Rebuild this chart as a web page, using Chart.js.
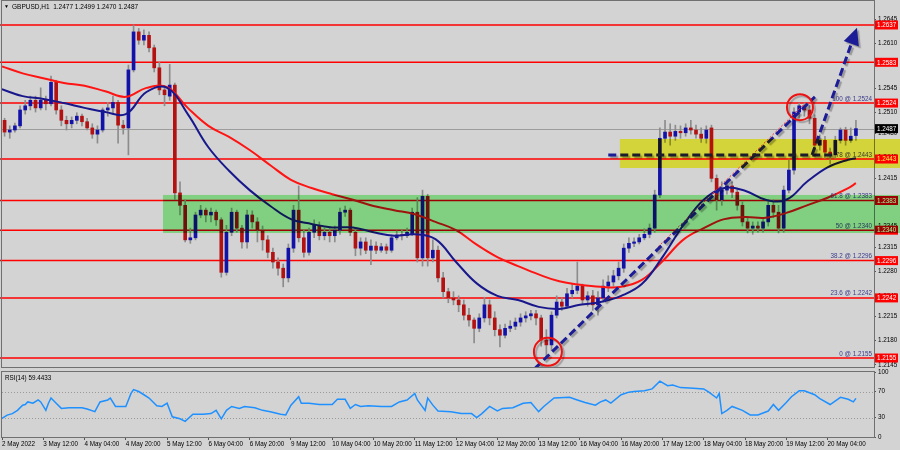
<!DOCTYPE html>
<html>
<head>
<meta charset="utf-8">
<script src="https://cdn.jsdelivr.net/npm/chart.js@4.4.1/dist/chart.umd.min.js"></script>
<style>
  html, body { margin: 0; padding: 0; background: #d3d3d3; }
  #wrap { position: relative; width: 900px; height: 450px; overflow: hidden; }
  #main { position: absolute; left: 0; top: 0; }
  #rsi { position: absolute; left: 0; top: 362px; }
</style>
</head>
<body>
<div id="wrap">
  <canvas id="main" width="900" height="369" style="width:900px;height:369px"></canvas>
  <canvas id="rsi" width="900" height="88" style="width:900px;height:88px"></canvas>
</div>
<script>
// GBPUSD 2-hour candles (2 May - 20 May 2022)
const opens = [1.2499,1.2482,1.2485,1.2491,1.2514,1.2520,1.2528,1.2517,1.2528,1.2523,1.2554,1.2514,1.2499,1.2494,1.2499,1.2505,1.2497,1.2488,1.2479,1.2485,1.2514,1.2517,1.2525,1.2492,1.2488,1.2572,1.2627,1.2615,1.2622,1.2604,1.2575,1.2543,1.2534,1.2550,1.2394,1.2376,1.2326,1.2329,1.2362,1.2369,1.2362,1.2366,1.2355,1.2279,1.2337,1.2366,1.2343,1.2323,1.2362,1.2352,1.2340,1.2326,1.2308,1.2294,1.2285,1.2271,1.2314,1.2369,1.2329,1.2308,1.2337,1.2347,1.2332,1.2337,1.2332,1.2340,1.2366,1.2369,1.2337,1.2314,1.2323,1.2311,1.2317,1.2311,1.2316,1.2311,1.2329,1.2333,1.2332,1.2334,1.2366,1.2300,1.2389,1.2300,1.2311,1.2271,1.2251,1.2242,1.2239,1.2232,1.2217,1.2210,1.2198,1.2213,1.2232,1.2213,1.2196,1.2188,1.2198,1.2201,1.2207,1.2213,1.2216,1.2219,1.2213,1.2181,1.2174,1.2217,1.2236,1.2230,1.2248,1.2253,1.2259,1.2239,1.2245,1.2232,1.2242,1.2259,1.2265,1.2274,1.2285,1.2314,1.2321,1.2323,1.2329,1.2334,1.2343,1.2391,1.2473,1.2482,1.2476,1.2483,1.2481,1.2488,1.2485,1.2479,1.2473,1.2488,1.2415,1.2384,1.2398,1.2404,1.2395,1.2376,1.2352,1.2343,1.2346,1.2343,1.2352,1.2376,1.2366,1.2343,1.2398,1.2427,1.2511,1.2520,1.2514,1.2502,1.2463,1.2470,1.2453,1.2449,1.2470,1.2485,1.2470,1.2477];
const highs = [1.2502,1.2491,1.2495,1.2520,1.2528,1.2534,1.2534,1.2546,1.2534,1.2563,1.2557,1.2520,1.2505,1.2504,1.2510,1.2508,1.2502,1.2494,1.2491,1.2517,1.2525,1.2534,1.2528,1.2499,1.2579,1.2637,1.2632,1.2630,1.2627,1.2608,1.2583,1.2549,1.2580,1.2553,1.2410,1.2384,1.2343,1.2366,1.2376,1.2372,1.2372,1.2369,1.2358,1.2347,1.2372,1.2369,1.2347,1.2369,1.2368,1.2358,1.2346,1.2332,1.2314,1.2300,1.2291,1.2320,1.2376,1.2404,1.2340,1.2343,1.2355,1.2352,1.2343,1.2343,1.2346,1.2372,1.2375,1.2372,1.2343,1.2329,1.2329,1.2326,1.2323,1.2321,1.2320,1.2333,1.2339,1.2340,1.2343,1.2372,1.2387,1.2398,1.2392,1.2326,1.2317,1.2279,1.2256,1.2251,1.2245,1.2239,1.2227,1.2213,1.2219,1.2243,1.2239,1.2222,1.2203,1.2204,1.2209,1.2213,1.2219,1.2222,1.2224,1.2224,1.2217,1.2196,1.2222,1.2245,1.2242,1.2256,1.2262,1.2294,1.2262,1.2251,1.2253,1.2251,1.2268,1.2274,1.2282,1.2294,1.2320,1.2329,1.2329,1.2334,1.2342,1.2349,1.2398,1.2488,1.2499,1.2494,1.2492,1.2491,1.2494,1.2499,1.2492,1.2488,1.2491,1.2492,1.2420,1.2410,1.2413,1.2410,1.2401,1.2381,1.2358,1.2352,1.2352,1.2358,1.2384,1.2384,1.2376,1.2404,1.2442,1.2517,1.2524,1.2524,1.2521,1.2507,1.2478,1.2476,1.2459,1.2476,1.2488,1.2489,1.2488,1.2499];
const lows = [1.2476,1.2473,1.2482,1.2488,1.2508,1.2514,1.2511,1.2514,1.2514,1.2520,1.2508,1.2491,1.2485,1.2488,1.2494,1.2491,1.2485,1.2473,1.2466,1.2482,1.2505,1.2508,1.2466,1.2479,1.2449,1.2569,1.2609,1.2608,1.2598,1.2569,1.2536,1.2520,1.2528,1.2384,1.2362,1.2323,1.2321,1.2326,1.2358,1.2352,1.2352,1.2347,1.2272,1.2275,1.2332,1.2337,1.2314,1.2314,1.2343,1.2323,1.2311,1.2300,1.2285,1.2275,1.2258,1.2265,1.2308,1.2323,1.2301,1.2304,1.2329,1.2326,1.2326,1.2323,1.2323,1.2334,1.2360,1.2332,1.2303,1.2304,1.2306,1.2290,1.2306,1.2308,1.2306,1.2308,1.2326,1.2326,1.2329,1.2332,1.2294,1.2288,1.2288,1.2294,1.2265,1.2242,1.2235,1.2232,1.2222,1.2210,1.2201,1.2177,1.2193,1.2207,1.2203,1.2187,1.2171,1.2184,1.2193,1.2196,1.2201,1.2207,1.2210,1.2203,1.2172,1.2155,1.2166,1.2213,1.2224,1.2227,1.2242,1.2248,1.2233,1.2230,1.2224,1.2217,1.2236,1.2251,1.2259,1.2268,1.2279,1.2308,1.2316,1.2320,1.2326,1.2329,1.2337,1.2387,1.2467,1.2463,1.2470,1.2473,1.2476,1.2479,1.2473,1.2467,1.2466,1.2410,1.2369,1.2376,1.2392,1.2387,1.2369,1.2346,1.2336,1.2334,1.2337,1.2337,1.2346,1.2358,1.2336,1.2337,1.2394,1.2421,1.2502,1.2505,1.2494,1.2456,1.2456,1.2444,1.2436,1.2444,1.2466,1.2463,1.2467,1.2470];
const closes = [1.2482,1.2485,1.2491,1.2514,1.2520,1.2528,1.2517,1.2528,1.2523,1.2554,1.2514,1.2499,1.2494,1.2499,1.2505,1.2497,1.2488,1.2479,1.2485,1.2514,1.2517,1.2525,1.2492,1.2488,1.2572,1.2627,1.2615,1.2622,1.2604,1.2575,1.2543,1.2536,1.2550,1.2394,1.2376,1.2326,1.2329,1.2362,1.2369,1.2362,1.2366,1.2355,1.2279,1.2337,1.2366,1.2343,1.2323,1.2362,1.2352,1.2340,1.2326,1.2308,1.2294,1.2285,1.2271,1.2314,1.2369,1.2329,1.2308,1.2337,1.2347,1.2332,1.2337,1.2332,1.2340,1.2366,1.2369,1.2337,1.2314,1.2323,1.2311,1.2317,1.2311,1.2316,1.2311,1.2329,1.2333,1.2332,1.2337,1.2366,1.2300,1.2389,1.2300,1.2311,1.2271,1.2251,1.2242,1.2239,1.2232,1.2217,1.2210,1.2198,1.2213,1.2232,1.2213,1.2196,1.2188,1.2198,1.2201,1.2207,1.2213,1.2216,1.2219,1.2213,1.2181,1.2174,1.2217,1.2236,1.2230,1.2248,1.2253,1.2259,1.2239,1.2245,1.2232,1.2242,1.2259,1.2265,1.2274,1.2285,1.2314,1.2321,1.2323,1.2329,1.2334,1.2343,1.2391,1.2473,1.2482,1.2476,1.2483,1.2481,1.2488,1.2485,1.2479,1.2473,1.2485,1.2415,1.2384,1.2398,1.2404,1.2395,1.2376,1.2352,1.2343,1.2346,1.2343,1.2352,1.2376,1.2366,1.2343,1.2398,1.2427,1.2511,1.2520,1.2514,1.2502,1.2463,1.2470,1.2453,1.2449,1.2470,1.2485,1.2470,1.2476,1.2487];

// moving averages, sampled every 8 hours
const maHours = [0,8,16,24,32,40,48,56,64,72,80,88,96,104,112,120,128,136,144,152,160,168,176,184,192,200,208,216,224,232,240,248,256,264,272,280,288,296,304,312,320,328,331];
const blueMA = [1.2544,1.2534,1.2530,1.2524,1.2517,1.2511,1.2508,1.2540,1.2546,1.2508,1.2460,1.2426,1.2398,1.2375,1.2356,1.2349,1.2344,1.2344,1.2337,1.2332,1.2334,1.2327,1.2294,1.2263,1.2245,1.2239,1.2229,1.2226,1.2232,1.2236,1.2245,1.2262,1.2301,1.2347,1.2384,1.2401,1.2397,1.2384,1.2384,1.2410,1.2431,1.2442,1.2444];
const redMA = [1.2577,1.2567,1.2560,1.2553,1.2549,1.2541,1.2533,1.2546,1.2547,1.2517,1.2491,1.2475,1.2456,1.2434,1.2413,1.2401,1.2392,1.2384,1.2375,1.2369,1.2363,1.2352,1.2340,1.2319,1.2301,1.2288,1.2276,1.2266,1.2261,1.2258,1.2258,1.2268,1.2295,1.2326,1.2343,1.2356,1.2359,1.2358,1.2365,1.2376,1.2387,1.2401,1.2408];

// RSI(14)
const rsiHours = [0,2,4,6,8,9,10,12,14,15,17,18,19,21,23,26,31,33,36,38,41,42,44,46,48,50,51,53,55,57,60,62,64,66,69,71,74,78,81,83,85,87,89,92,94,98,101,104,108,110,112,115,116,119,123,128,130,133,135,137,139,142,147,151,154,157,160,161,164,165,167,169,174,178,182,184,186,189,192,194,198,202,205,208,210,214,220,223,226,230,232,234,236,240,243,245,249,252,255,258,260,263,268,272,274,277,278,279,281,283,287,290,293,297,299,301,304,306,309,311,315,317,321,325,328,330,331];
const rsiValues = [28.5,33.7,36,41,49,50,54,52,57,54,41,52,60,52,44,45,45,43,39,54,57,60,47,47,47,67,73,70,65,60,48,47,52,31,28,24,35,35,36,41,28,41,47,44,47,45,41,39,35,34,49,62,52,52,50,50,58,58,44,50,47,48,47,47,54,57,67,57,41,60,49,40,39,36,36,30,36,47,40,44,45,52,53,39,47,60,61,57,53,49,54,57,52,65,69,70,71,74,86,79,80,76,75,74,69,60,67,36,41,47,41,34,34,40,50,41,53,62,71,71,65,59,50,61,58,54,59.4433];
const rsiLast = 59.4433;

// axes
const xLabels = ['2 May 2022','3 May 12:00','4 May 04:00','4 May 20:00','5 May 12:00','6 May 04:00','6 May 20:00','9 May 12:00','10 May 04:00','10 May 20:00','11 May 12:00','12 May 04:00','12 May 20:00','13 May 12:00','16 May 04:00','16 May 20:00','17 May 12:00','18 May 04:00','18 May 20:00','19 May 12:00','20 May 04:00'];
const yTicks = [1.2645,1.2610,1.2580,1.2545,1.2510,1.2480,1.2445,1.2415,1.2380,1.2345,1.2315,1.2280,1.2245,1.2215,1.2180,1.2145];
const rsiTicks = [100,70,30,0];

// drawn objects
const fibNames = ['0','23.6','38.2','50','61.8','78','100'];
const fibPrices = [1.2155,1.2242,1.2296,1.2340,1.2383,1.2443,1.2524];
const extraLevels = [1.2583,1.2637];
const zoneFrom = [62.4, 239.5];
const zoneTop = [1.2391, 1.2472];
const zoneBottom = [1.2336, 1.2430];
const trendHours = [206.6, 315.1], trendPrices = [1.2140, 1.2533];
const arrowHours = [314.0, 331.4], arrowPrices = [1.2449, 1.2633];
const supportHours = [235, 322], supportPrice = 1.2449;
const dotHours = [254.3, 310.5], dotPrices = [1.2316, 1.2521];
const circleHours = [211.6, 309.3], circlePrices = [1.2164, 1.2518];

const FONT = 'Liberation Sans';
const BG = '#d3d3d3';
const BULL = '#1212a8', BEAR = '#b31212';
const NAVY = '#1c1c96';
const ZONE_COLORS = ['rgb(156,250,156)', 'rgb(255,255,70)'];

const n = closes.length;
const candleHours = closes.map((c, i) => 2 * i + 1);

function pt(chart, h, p) {
    return [chart.scales.x.getPixelForValue(h), chart.scales.y.getPixelForValue(p)];
}

function dashed(ctx, a, b, width, color, dash) {
    ctx.save();
    ctx.strokeStyle = color;
    ctx.lineWidth = width;
    ctx.setLineDash(dash);
    ctx.shadowColor = 'rgba(0,0,0,0.28)';
    ctx.shadowOffsetX = 2;
    ctx.shadowOffsetY = 2;
    ctx.shadowBlur = 1;
    ctx.beginPath();
    ctx.moveTo(a[0], a[1]);
    ctx.lineTo(b[0], b[1]);
    ctx.stroke();
    ctx.restore();
}

const mainDecor = {
    id: 'mainDecor',
    beforeDraw(chart) {
        const ctx = chart.ctx;
        ctx.save();
        ctx.fillStyle = BG;
        ctx.fillRect(0, 0, chart.width, chart.height);
        ctx.restore();
    },
    beforeDatasetsDraw(chart) {
        const {ctx, chartArea: a, scales: {y}} = chart;
        ctx.save();
        // bid line
        const yb = Math.round(y.getPixelForValue(closes[n - 1])) + 0.5;
        ctx.strokeStyle = '#9c9c9c';
        ctx.lineWidth = 1;
        ctx.beginPath(); ctx.moveTo(a.left, yb); ctx.lineTo(a.right, yb); ctx.stroke();
        // levels
        ctx.strokeStyle = '#ff0000';
        ctx.lineWidth = 1.5;
        fibPrices.concat(extraLevels).forEach(p => {
            const yy = y.getPixelForValue(p);
            ctx.beginPath(); ctx.moveTo(0, yy); ctx.lineTo(a.right, yy); ctx.stroke();
        });
        ctx.restore();
    },
    afterDatasetsDraw(chart) {
        const {ctx, chartArea: a, scales: {y}} = chart;
        ctx.save();
        ctx.beginPath();
        ctx.rect(a.left, a.top, a.width, a.height);
        ctx.clip();

        // thin red dotted helper line
        ctx.save();
        ctx.strokeStyle = '#ff3030'; ctx.lineWidth = 1; ctx.setLineDash([2, 2]);
        const d0 = pt(chart, dotHours[0], dotPrices[0]), d1 = pt(chart, dotHours[1], dotPrices[1]);
        ctx.beginPath(); ctx.moveTo(d0[0], d0[1]); ctx.lineTo(d1[0], d1[1]); ctx.stroke();
        ctx.restore();

        // rising trend line
        dashed(ctx, pt(chart, trendHours[0], trendPrices[0]), pt(chart, trendHours[1], trendPrices[1]), 3, NAVY, [8, 4]);
        // horizontal support
        dashed(ctx, pt(chart, supportHours[0], supportPrice), pt(chart, supportHours[1], supportPrice), 3, NAVY, [8, 4]);

        // arrow
        const s = pt(chart, arrowHours[0], arrowPrices[0]);
        const t = pt(chart, arrowHours[1], arrowPrices[1]);
        const ang = Math.atan2(t[1] - s[1], t[0] - s[0]);
        const hl = 17, hw = 8;
        const b = [t[0] - hl * Math.cos(ang), t[1] - hl * Math.sin(ang)];
        dashed(ctx, s, b, 3, NAVY, [8, 4]);
        ctx.save();
        ctx.fillStyle = NAVY;
        ctx.shadowColor = 'rgba(0,0,0,0.28)'; ctx.shadowOffsetX = 2; ctx.shadowOffsetY = 2; ctx.shadowBlur = 1;
        ctx.beginPath();
        ctx.moveTo(t[0], t[1]);
        ctx.lineTo(b[0] - hw * Math.sin(ang), b[1] + hw * Math.cos(ang));
        ctx.lineTo(b[0] + hw * Math.sin(ang), b[1] - hw * Math.cos(ang));
        ctx.closePath();
        ctx.fill();
        ctx.restore();

        // circles
        const radii = [14, 13];
        ctx.save();
        ctx.strokeStyle = '#ee1111'; ctx.lineWidth = 2;
        ctx.shadowColor = 'rgba(0,0,0,0.25)'; ctx.shadowOffsetX = 2; ctx.shadowOffsetY = 2; ctx.shadowBlur = 1;
        circleHours.forEach((h, i) => {
            const c = pt(chart, h, circlePrices[i]);
            ctx.beginPath(); ctx.arc(c[0], c[1], radii[i], 0, Math.PI * 2); ctx.stroke();
        });
        ctx.restore();
        ctx.restore();

        // fibo texts
        ctx.save();
        ctx.font = '6.3px ' + FONT;
        ctx.fillStyle = '#3a3a8c';
        ctx.textAlign = 'right';
        ctx.textBaseline = 'bottom';
        fibPrices.forEach((p, i) => {
            ctx.fillText(fibNames[i] + ' @ ' + p.toFixed(4), a.right - 2, y.getPixelForValue(p) - 1);
        });
        ctx.restore();

        // price boxes on the axis
        ctx.save();
        ctx.font = '6.3px ' + FONT;
        ctx.textBaseline = 'middle';
        ctx.textAlign = 'left';
        const boxes = fibPrices.concat(extraLevels).map(p => [p, '#ff0000']);
        boxes.push([closes[n - 1], '#000000']);
        boxes.forEach(([p, col]) => {
            const yy = y.getPixelForValue(p);
            ctx.fillStyle = col;
            ctx.fillRect(a.right + 1, yy - 4.5, 23, 9);
            ctx.fillStyle = '#ffffff';
            ctx.fillText(p.toFixed(4), a.right + 3, yy + 0.5);
        });
        ctx.restore();
    },
    afterDraw(chart) {
        const {ctx, chartArea: a, scales: {x, y}} = chart;
        ctx.save();
        // frame
        ctx.strokeStyle = '#707070';
        ctx.lineWidth = 1;
        ctx.strokeRect(a.left - 0.5, a.top - 0.5, a.width + 1, a.height + 1);
        // header
        ctx.fillStyle = '#000';
        ctx.font = '5px ' + FONT;
        ctx.textBaseline = 'middle';
        ctx.fillText('\u25BC', 4, 7);
        ctx.font = '6.5px ' + FONT;
        ctx.fillText('GBPUSD,H1  ' + [opens[n - 1], highs[n - 1], lows[n - 1], closes[n - 1]].map(v => v.toFixed(4)).join(' '), 12, 7);
        // zones
        ctx.globalCompositeOperation = 'multiply';
        zoneFrom.forEach((h, i) => {
            const x0 = x.getPixelForValue(h);
            const y0 = y.getPixelForValue(zoneTop[i]);
            const y1 = y.getPixelForValue(zoneBottom[i]);
            ctx.fillStyle = ZONE_COLORS[i];
            ctx.fillRect(x0, y0, chart.width - x0, y1 - y0);
        });
        ctx.restore();
    }
};

new Chart(document.getElementById('main'), {
    type: 'bar',
    data: {
        datasets: [
            {
                type: 'line', data: maHours.map((h, i) => ({x: h, y: blueMA[i]})),
                borderColor: '#18188c', borderWidth: 2, pointRadius: 0, tension: 0.4, order: 0
            },
            {
                type: 'line', data: maHours.map((h, i) => ({x: h, y: redMA[i]})),
                borderColor: '#ff1414', borderWidth: 2, pointRadius: 0, tension: 0.4, order: 0
            },
            {
                type: 'bar', data: candleHours.map((h, i) => ({x: h, y: [opens[i], closes[i]]})),
                backgroundColor: closes.map((c, i) => c >= opens[i] ? BULL : BEAR),
                barThickness: 3, minBarLength: 1, grouped: false, order: 1
            },
            {
                type: 'bar', data: candleHours.map((h, i) => ({x: h, y: [lows[i], highs[i]]})),
                backgroundColor: '#8c8c8c', barThickness: 1, grouped: false, order: 2
            }
        ]
    },
    options: {
        responsive: false,
        animation: false,
        events: [],
        layout: {padding: {left: 2, top: 1, right: 0, bottom: 2}},
        plugins: {legend: {display: false}, tooltip: {enabled: false}},
        scales: {
            x: {type: 'linear', min: 0, max: 338, offset: false, grid: {offset: false}, display: false},
            y: {
                type: 'linear', position: 'right', min: 1.2142, max: 1.26717,
                afterBuildTicks: s => { s.ticks = yTicks.map(v => ({value: v})); },
                afterFit: s => { s.width = 26; s.paddingTop = 0; s.paddingBottom = 0; },
                ticks: {autoSkip: false, padding: 2, color: '#000', font: {family: FONT, size: 6.3}, callback: v => v.toFixed(4)},
                grid: {drawOnChartArea: false, tickLength: 2, color: '#555'},
                border: {display: true, color: '#707070'}
            }
        }
    },
    plugins: [mainDecor]
});

const rsiDecor = {
    id: 'rsiDecor',
    beforeDatasetsDraw(chart) {
        const {ctx, chartArea: a, scales: {y}} = chart;
        ctx.save();
        ctx.strokeStyle = '#9a9a9a';
        ctx.lineWidth = 1;
        ctx.setLineDash([1, 2]);
        [70, 30].forEach(v => {
            const yy = Math.round(y.getPixelForValue(v)) + 0.5;
            ctx.beginPath(); ctx.moveTo(a.left, yy); ctx.lineTo(a.right, yy); ctx.stroke();
        });
        ctx.restore();
    },
    afterDraw(chart) {
        const {ctx, chartArea: a} = chart;
        ctx.save();
        ctx.strokeStyle = '#707070';
        ctx.lineWidth = 1;
        ctx.strokeRect(a.left - 0.5, a.top - 0.5, a.width + 1, a.height + 1);
        ctx.fillStyle = '#000';
        ctx.font = '6.3px ' + FONT;
        ctx.textBaseline = 'middle';
        ctx.fillText('RSI(14) ' + rsiLast.toFixed(4), 5, a.top + 6);
        ctx.restore();
    }
};

new Chart(document.getElementById('rsi'), {
    type: 'line',
    data: {
        datasets: [{
            data: rsiHours.map((h, i) => ({x: h, y: rsiValues[i]})),
            borderColor: '#1e90ff', borderWidth: 1.5, pointRadius: 0, tension: 0
        }]
    },
    options: {
        responsive: false,
        animation: false,
        events: [],
        layout: {padding: {left: 2, top: 10, right: 0, bottom: 0}},
        plugins: {legend: {display: false}, tooltip: {enabled: false}},
        scales: {
            x: {
                type: 'linear', min: 0, max: 338,
                afterBuildTicks: s => { s.ticks = xLabels.map((l, i) => ({value: i * 16})); },
                afterFit: s => { s.height = 13; s.paddingLeft = 0; s.paddingRight = 0; },
                ticks: {autoSkip: false, maxRotation: 0, align: 'start', padding: 0, color: '#000', font: {family: FONT, size: 6.3}, callback: (v, i) => xLabels[i]},
                grid: {drawOnChartArea: false, tickLength: 3, color: '#555'},
                border: {display: true, color: '#707070'}
            },
            y: {
                type: 'linear', position: 'right', min: 0, max: 100,
                afterBuildTicks: s => { s.ticks = rsiTicks.map(v => ({value: v})); },
                afterFit: s => { s.width = 26; s.paddingTop = 0; s.paddingBottom = 0; },
                ticks: {autoSkip: false, padding: 2, color: '#000', font: {family: FONT, size: 6.3}},
                grid: {drawOnChartArea: false, tickLength: 2, color: '#555'},
                border: {display: true, color: '#707070'}
            }
        }
    },
    plugins: [rsiDecor]
});
</script>
</body>
</html>
